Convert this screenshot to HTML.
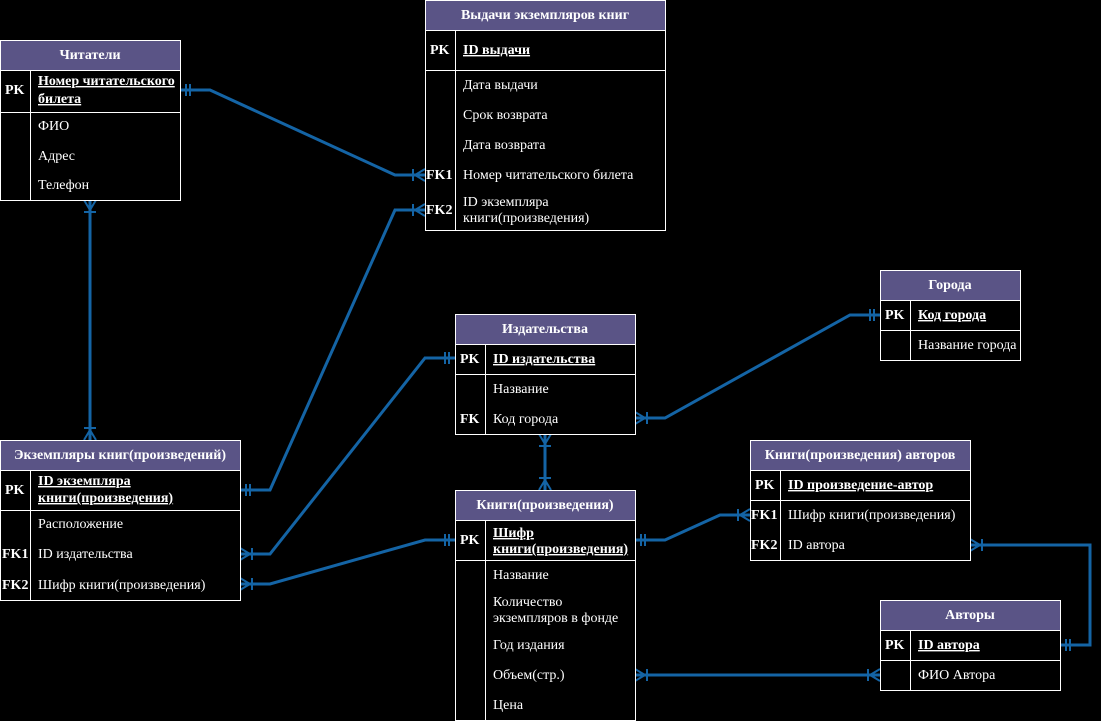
<!DOCTYPE html>
<html><head><meta charset="utf-8"><style>
body{margin:0;background:#000;width:1101px;height:721px;overflow:hidden}
svg{display:block}
text{font-family:"Liberation Serif",serif;font-size:14px;fill:#fff}
.h{font-weight:bold;text-anchor:middle}
.b{font-weight:bold}
.u{font-weight:bold;text-decoration:underline}
rect.t{fill:#000;stroke:#fff;stroke-width:1}
rect.hd{fill:#5a5486;stroke:#fff;stroke-width:1}
line.s{stroke:#fff;stroke-width:1}
.c{fill:none;stroke:#1464a5;stroke-width:3}
</style></head><body>
<svg id="s" width="1101" height="721" xmlns="http://www.w3.org/2000/svg">
<g id="conn" class="c">
<polyline points="180,90 210,90 395,175 425,175"/>
<polyline points="90,200 90,440"/>
<polyline points="240,490 270,490 395,210 425,210"/>
<polyline points="240,554 270,554 425,358 455,358"/>
<polyline points="240,584 270,584 425,540 455,540"/>
<polyline points="635,418 665,418 850,315 880,315"/>
<polyline points="545,434 545,490"/>
<polyline points="635,540 665,540 720,515 750,515"/>
<polyline points="970,545 1090,545 1090,645 1060,645"/>
<polyline points="635,675 880,675"/>
</g>
<g id="mk" class="c" style="stroke-width:2"></g>

<rect class="t" x="0.5" y="40.5" width="180" height="160"/>
<rect class="hd" x="0.5" y="40.5" width="180" height="30"/>
<text class="h" x="90" y="59">Читатели</text>
<line class="s" x1="0" y1="112.5" x2="180" y2="112.5"/>
<line class="s" x1="30.5" y1="70" x2="30.5" y2="200"/>
<text class="b" x="5" y="94">PK</text>
<text class="u" x="38" y="85">Номер читательского</text>
<text class="u" x="38" y="103">билета</text>
<text x="38" y="130">ФИО</text>
<text x="38" y="160">Адрес</text>
<text x="38" y="189">Телефон</text>

<rect class="t" x="425.5" y="0.5" width="240" height="230"/>
<rect class="hd" x="425.5" y="0.5" width="240" height="30"/>
<text class="h" x="545" y="19">Выдачи экземпляров книг</text>
<line class="s" x1="425" y1="70.5" x2="665" y2="70.5"/>
<line class="s" x1="455.5" y1="30" x2="455.5" y2="230"/>
<text class="b" x="430" y="54">PK</text>
<text class="u" x="463" y="54">ID выдачи</text>
<text x="463" y="89">Дата выдачи</text>
<text x="463" y="119">Срок возврата</text>
<text x="463" y="149">Дата возврата</text>
<text class="b" x="426" y="179">FK1</text>
<text x="463" y="179">Номер читательского билета</text>
<text class="b" x="426" y="214">FK2</text>
<text x="463" y="206">ID экземпляра</text>
<text x="463" y="222">книги(произведения)</text>

<rect class="t" x="880.5" y="270.5" width="140" height="90"/>
<rect class="hd" x="880.5" y="270.5" width="140" height="30"/>
<text class="h" x="950" y="289">Города</text>
<line class="s" x1="880" y1="330.5" x2="1020" y2="330.5"/>
<line class="s" x1="910.5" y1="300" x2="910.5" y2="360"/>
<text class="b" x="885" y="319">PK</text>
<text class="u" x="918" y="319">Код города</text>
<text x="918" y="349">Название города</text>

<rect class="t" x="455.5" y="314.5" width="180" height="120"/>
<rect class="hd" x="455.5" y="314.5" width="180" height="30"/>
<text class="h" x="545" y="333">Издательства</text>
<line class="s" x1="455" y1="374.5" x2="635" y2="374.5"/>
<line class="s" x1="485.5" y1="344" x2="485.5" y2="434"/>
<text class="b" x="460" y="363">PK</text>
<text class="u" x="493" y="363">ID издательства</text>
<text x="493" y="393">Название</text>
<text class="b" x="460" y="423">FK</text>
<text x="493" y="423">Код города</text>

<rect class="t" x="0.5" y="440.5" width="240" height="160"/>
<rect class="hd" x="0.5" y="440.5" width="240" height="30"/>
<text class="h" x="120" y="459">Экземпляры книг(произведений)</text>
<line class="s" x1="0" y1="510.5" x2="240" y2="510.5"/>
<line class="s" x1="30.5" y1="470" x2="30.5" y2="600"/>
<text class="b" x="5" y="494">PK</text>
<text class="u" x="38" y="485">ID экземпляра</text>
<text class="u" x="38" y="502">книги(произведения)</text>
<text x="38" y="528">Расположение</text>
<text class="b" x="2" y="558">FK1</text>
<text x="38" y="558">ID издательства</text>
<text class="b" x="2" y="589">FK2</text>
<text x="38" y="589">Шифр книги(произведения)</text>

<rect class="t" x="455.5" y="490.5" width="180" height="230"/>
<rect class="hd" x="455.5" y="490.5" width="180" height="30"/>
<text class="h" x="545" y="509">Книги(произведения)</text>
<line class="s" x1="455" y1="560.5" x2="635" y2="560.5"/>
<line class="s" x1="485.5" y1="520" x2="485.5" y2="720"/>
<text class="b" x="460" y="544">PK</text>
<text class="u" x="493" y="537">Шифр</text>
<text class="u" x="493" y="553">книги(произведения)</text>
<text x="493" y="579">Название</text>
<text x="493" y="606">Количество</text>
<text x="493" y="622">экземпляров в фонде</text>
<text x="493" y="649">Год издания</text>
<text x="493" y="679">Объем(стр.)</text>
<text x="493" y="709">Цена</text>

<rect class="t" x="750.5" y="440.5" width="220" height="120"/>
<rect class="hd" x="750.5" y="440.5" width="220" height="30"/>
<text class="h" x="860" y="459">Книги(произведения) авторов</text>
<line class="s" x1="750" y1="500.5" x2="970" y2="500.5"/>
<line class="s" x1="780.5" y1="470" x2="780.5" y2="560"/>
<text class="b" x="755" y="489">PK</text>
<text class="u" x="788" y="489">ID произведение-автор</text>
<text class="b" x="751" y="519">FK1</text>
<text x="788" y="519">Шифр книги(произведения)</text>
<text class="b" x="751" y="549">FK2</text>
<text x="788" y="549">ID автора</text>

<rect class="t" x="880.5" y="600.5" width="180" height="90"/>
<rect class="hd" x="880.5" y="600.5" width="180" height="30"/>
<text class="h" x="970" y="619">Авторы</text>
<line class="s" x1="880" y1="660.5" x2="1060" y2="660.5"/>
<line class="s" x1="910.5" y1="630" x2="910.5" y2="690"/>
<text class="b" x="885" y="649">PK</text>
<text class="u" x="918" y="649">ID автора</text>
<text x="918" y="679">ФИО Автора</text>
</svg>
<script>
var g=document.getElementById('mk'),d='';
function L(a,b,c,e){d+='<line x1="'+a+'" y1="'+b+'" x2="'+c+'" y2="'+e+'"/>';}
function bar2(x,y,dx,dy){var px=-dy,py=dx;[6,10].forEach(function(k){L(x+dx*k+px*6,y+dy*k+py*6,x+dx*k-px*6,y+dy*k-py*6);});}
function crow(x,y,dx,dy){var px=-dy,py=dx;var bx=x+dx*10,by=y+dy*10;
L(bx,by,x+px*6,y+py*6);L(bx,by,x-px*6,y-py*6);L(bx,by,x,y);
L(x+dx*12+px*6,y+dy*12+py*6,x+dx*12-px*6,y+dy*12-py*6);}
bar2(180,90,1,0);crow(425,175,-1,0);
crow(90,200,0,1);crow(90,440,0,-1);
bar2(240,490,1,0);crow(425,210,-1,0);
crow(240,554,1,0);bar2(455,358,-1,0);
crow(240,584,1,0);bar2(455,540,-1,0);
crow(635,418,1,0);bar2(880,315,-1,0);
crow(545,434,0,1);crow(545,490,0,-1);
bar2(635,540,1,0);crow(750,515,-1,0);
crow(970,545,1,0);bar2(1060,645,1,0);
crow(635,675,1,0);crow(880,675,-1,0);
g.innerHTML=d;
</script>
</body></html>
